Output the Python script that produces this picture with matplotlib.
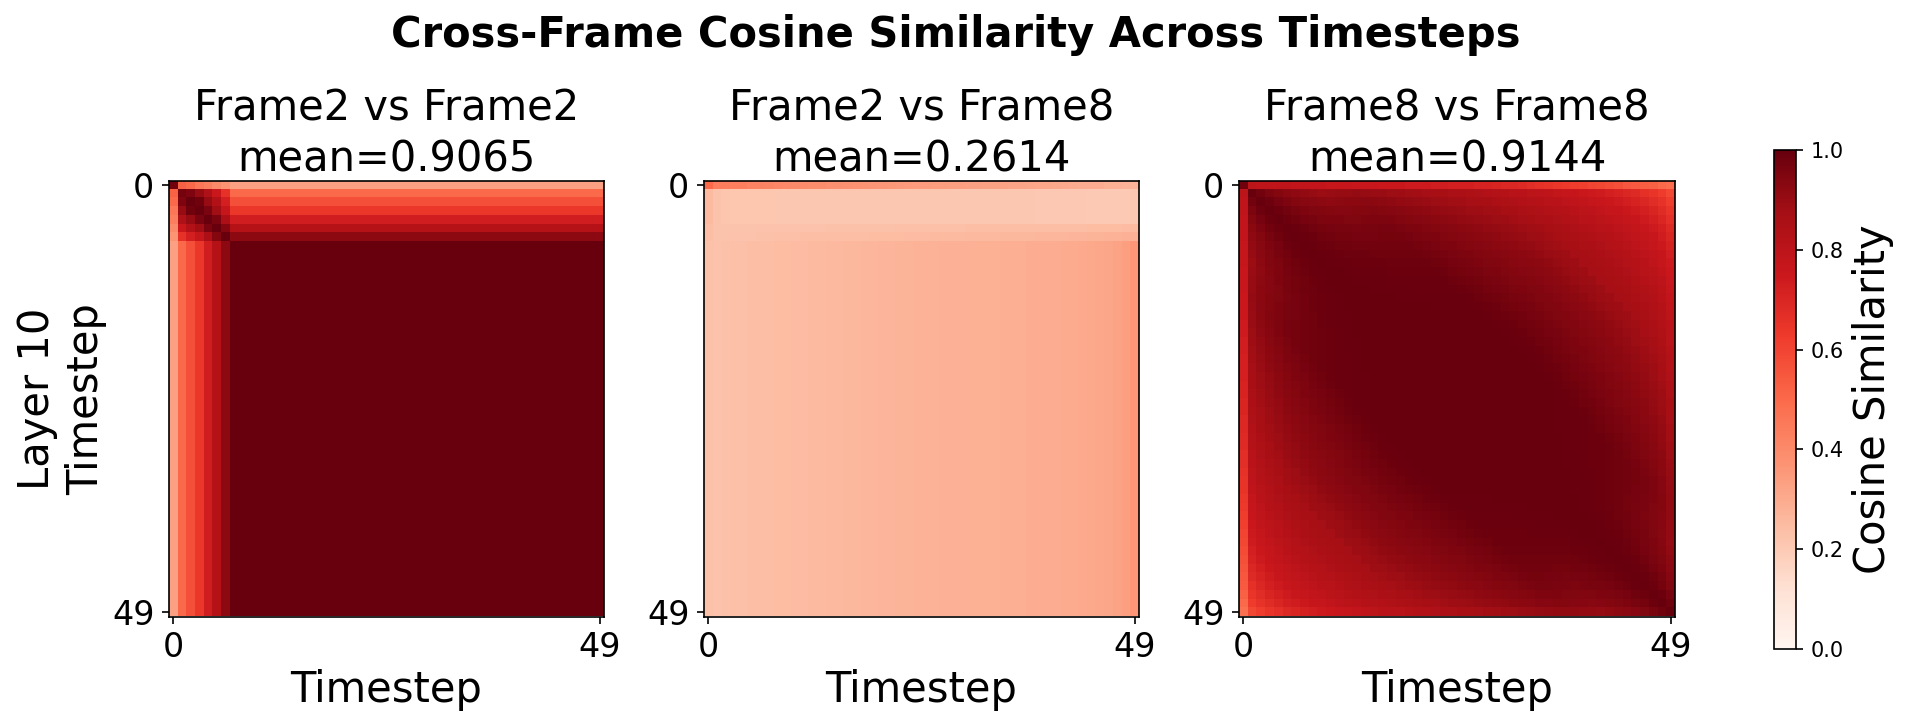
import numpy as np
import matplotlib
matplotlib.use("Agg")
import matplotlib.pyplot as plt

W, H = 1909, 726
DPI = 150

suptitle = "Cross-Frame Cosine Similarity Across Timesteps"
titles = ["Frame2 vs Frame2\nmean=0.9065", "Frame2 vs Frame8\nmean=0.2614", "Frame8 vs Frame8\nmean=0.9144"]
tick_labels = [0, 49]
n = 50

# Frame2 vs Frame2: top-left block read cell by cell; everything below/right repeats its last row/col
a_block = [
    [0.98, 0.52, 0.50, 0.46, 0.43, 0.40, 0.37],
    [0.52, 0.97, 0.95, 0.90, 0.84, 0.75, 0.66],
    [0.50, 0.95, 1.00, 0.98, 0.90, 0.83, 0.72],
    [0.46, 0.90, 0.98, 1.00, 0.96, 0.88, 0.77],
    [0.43, 0.84, 0.90, 0.96, 1.00, 0.96, 0.85],
    [0.40, 0.75, 0.83, 0.88, 0.96, 1.00, 0.94],
    [0.37, 0.66, 0.72, 0.77, 0.85, 0.94, 1.00],
]
a_edge = [0.33, 0.50, 0.57, 0.64, 0.73, 0.82, 0.92]

# Frame2 vs Frame8: horizontal bands
b_row0 = [0.50, 0.44, 0.44, 0.435, 0.43, 0.425, 0.42, 0.415, 0.41, 0.405, 0.40, 0.395, 0.39, 0.387, 0.383, 0.38,
          0.375, 0.372, 0.368, 0.365, 0.36, 0.356, 0.353, 0.35, 0.347, 0.344, 0.342, 0.34, 0.337, 0.334, 0.332, 0.33,
          0.327, 0.325, 0.322, 0.32, 0.317, 0.314, 0.312, 0.309, 0.306, 0.303, 0.30, 0.296, 0.293, 0.29, 0.285, 0.28, 0.275, 0.27]
b_top = [0.25, 0.222, 0.216, 0.213, 0.212, 0.212, 0.211, 0.211, 0.21, 0.21, 0.21, 0.21, 0.21, 0.21, 0.21, 0.21,
         0.21, 0.21, 0.21, 0.21, 0.21, 0.21, 0.21, 0.21, 0.21, 0.21, 0.21, 0.21, 0.21, 0.21, 0.21, 0.21,
         0.21, 0.21, 0.21, 0.21, 0.208, 0.208, 0.206, 0.206, 0.205, 0.205, 0.204, 0.204, 0.203, 0.203, 0.202, 0.202, 0.20, 0.21]
b_row5 = [0.235, 0.222, 0.222, 0.222, 0.222, 0.222, 0.223, 0.223, 0.224, 0.224, 0.225, 0.225, 0.226, 0.226, 0.227, 0.227,
          0.228, 0.228, 0.229, 0.229, 0.23, 0.23, 0.231, 0.231, 0.232, 0.232, 0.233, 0.233, 0.234, 0.234, 0.235, 0.235,
          0.236, 0.236, 0.237, 0.237, 0.238, 0.238, 0.239, 0.239, 0.24, 0.24, 0.241, 0.242, 0.243, 0.244, 0.245, 0.246, 0.248, 0.25]
b_row6 = [0.24, 0.222, 0.222, 0.223, 0.224, 0.225, 0.227, 0.229, 0.231, 0.233, 0.234, 0.235, 0.236, 0.237, 0.238, 0.239,
          0.24, 0.241, 0.242, 0.243, 0.244, 0.245, 0.246, 0.247, 0.248, 0.249, 0.25, 0.251, 0.252, 0.253, 0.254, 0.255,
          0.256, 0.257, 0.258, 0.259, 0.26, 0.261, 0.262, 0.263, 0.264, 0.265, 0.266, 0.268, 0.27, 0.272, 0.274, 0.276, 0.278, 0.28]
b_low = [0.228, 0.226, 0.228, 0.231, 0.233, 0.236, 0.238, 0.24, 0.243, 0.245, 0.247, 0.249, 0.251, 0.253, 0.255, 0.257,
         0.259, 0.261, 0.263, 0.265, 0.267, 0.269, 0.271, 0.272, 0.274, 0.275, 0.277, 0.278, 0.279, 0.28, 0.281, 0.282,
         0.284, 0.285, 0.286, 0.288, 0.289, 0.29, 0.291, 0.293, 0.295, 0.297, 0.299, 0.302, 0.305, 0.31, 0.316, 0.324, 0.335, 0.36]

# Frame8 vs Frame8: first row/col, similarity by timestep distance, loss close to the outer rows/cols
c_row0 = [0.98, 0.80, 0.79, 0.79, 0.79, 0.79, 0.78, 0.78, 0.78, 0.78, 0.77, 0.77, 0.77, 0.76, 0.76, 0.76,
          0.75, 0.75, 0.75, 0.74, 0.74, 0.74, 0.73, 0.73, 0.72, 0.72, 0.72, 0.71, 0.71, 0.70, 0.69, 0.69,
          0.68, 0.67, 0.66, 0.65, 0.64, 0.63, 0.62, 0.61, 0.60, 0.59, 0.58, 0.57, 0.55, 0.54, 0.53, 0.52, 0.50, 0.49]
c_col0 = [0.98, 0.80, 0.79, 0.79, 0.78, 0.78, 0.78, 0.77, 0.77, 0.77, 0.76, 0.76, 0.76, 0.75, 0.75, 0.75,
          0.74, 0.74, 0.73, 0.73, 0.72, 0.72, 0.72, 0.71, 0.71, 0.70, 0.70, 0.69, 0.69, 0.68, 0.68, 0.67,
          0.67, 0.66, 0.65, 0.65, 0.64, 0.63, 0.62, 0.61, 0.60, 0.59, 0.58, 0.57, 0.56, 0.55, 0.54, 0.52, 0.50, 0.48]
c_dist = [1.00, 1.00, 1.00, 1.00, 1.00, 1.00, 1.00, 1.00, 1.00, 1.00, 1.00, 1.00, 1.00, 0.995, 0.99, 0.985,
          0.98, 0.975, 0.97, 0.965, 0.96, 0.955, 0.95, 0.945, 0.94, 0.935, 0.93, 0.92, 0.915, 0.91, 0.90, 0.895,
          0.89, 0.885, 0.88, 0.87, 0.865, 0.86, 0.85, 0.845, 0.84, 0.83, 0.82, 0.81, 0.80, 0.79, 0.78, 0.77, 0.76, 0.75]
c_near = [0.00, 0.15, 0.30, 0.45, 0.60, 0.70, 0.80, 0.90, 1.00, 1.00, 1.00, 1.00, 1.00, 1.00, 1.00, 1.00,
          1.00, 1.00, 1.00, 1.00, 1.00, 1.00, 1.00, 1.00, 1.00, 1.00, 1.00, 1.00, 1.00, 1.00, 1.00, 1.00,
          1.00, 1.00, 1.00, 1.00, 1.00, 1.00, 1.00, 1.00, 1.00, 1.00, 1.00, 1.00, 1.00, 1.00, 1.00, 1.00, 1.00, 1.00]
c_loss = [0.00, 0.09, 0.07, 0.055, 0.045, 0.035, 0.03, 0.025, 0.02, 0.017, 0.014, 0.011, 0.008, 0.006, 0.004, 0.002,
          0, 0, 0, 0, 0, 0, 0, 0, 0, 0, 0, 0, 0, 0, 0, 0,
          0, 0, 0, 0.002, 0.004, 0.006, 0.008, 0.01, 0.012, 0.015, 0.018, 0.021, 0.025, 0.03, 0.036, 0.045, 0.056, 0.08]

# Assemble the three matrices from the lists above
A = np.ones((n, n))
A[:7, :7] = a_block
A[:7, 7:] = np.array(a_edge)[:, None]
A[7:, :7] = np.array(a_edge)[None, :]

B = np.empty((n, n))
B[0] = b_row0
B[1:5] = b_top
B[5] = b_row5
B[6] = b_row6
B[7:] = b_low

idx = np.arange(n)
dist = np.abs(idx[:, None] - idx[None, :])
loss = np.array(c_loss)
near = np.array(c_near)[dist]
C = np.array(c_dist)[dist] - near * (loss[:, None] + loss[None, :])
C[0] = c_row0
C[:, 0] = c_col0

matrices = [A, B, C]


def box(x0, y0, x1, y1):
    return [x0 / W, 1 - y1 / H, (x1 - x0) / W, (y1 - y0) / H]


fig = plt.figure(figsize=(W / DPI, H / DPI), dpi=DPI)
panels = [(169, 181, 604, 616.5), (704, 181, 1139, 616.5), (1239, 181, 1675, 616.5)]
for k, (m, t, p) in enumerate(zip(matrices, titles, panels)):
    ax = fig.add_axes(box(*p))
    im = ax.imshow(m, cmap="Reds", vmin=0, vmax=1, aspect="auto", interpolation="nearest")
    ax.set_title(t, fontsize=20, linespacing=1.3, pad=3.5)
    ax.set_xticks(tick_labels)
    ax.set_yticks(tick_labels)
    ax.tick_params(labelsize=16)
    ax.set_xlabel("Timestep", fontsize=20, labelpad=2.5)
    if k == 0:
        ax.set_ylabel("Layer 10\nTimestep", fontsize=20, labelpad=2.5)

cax = fig.add_axes(box(1774, 150, 1796, 649))
cb = fig.colorbar(im, cax=cax)
cb.set_label("Cosine Similarity", fontsize=20)
fig.suptitle(suptitle, fontsize=20, fontweight="bold", x=956 / W, y=1 - 35 / H, va="center")
fig.savefig("out.png", dpi=DPI)
